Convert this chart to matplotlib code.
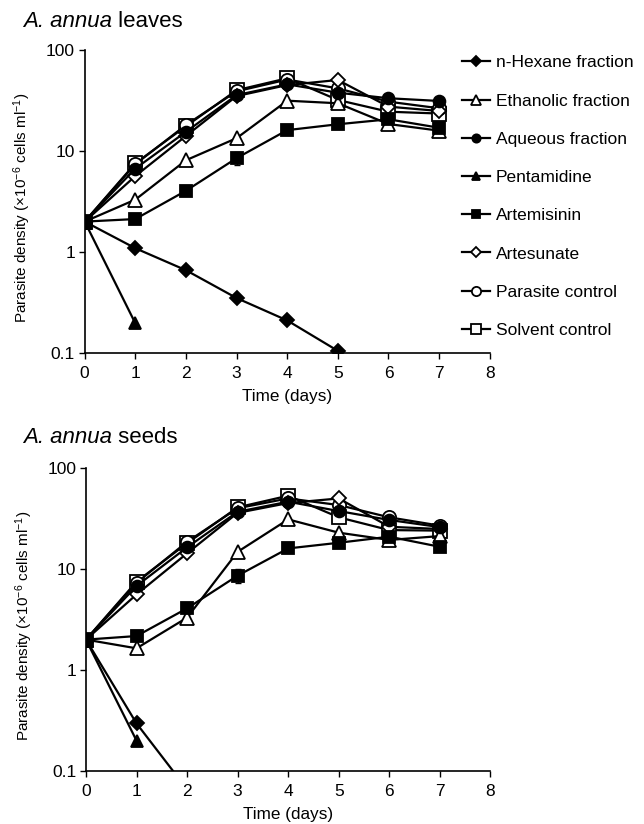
import matplotlib
matplotlib.use("Agg")
import matplotlib.pyplot as plt
import numpy as np

plt.rcParams['font.family'] = ['Liberation Sans', 'DejaVu Sans']
plt.rcParams['mathtext.fontset'] = 'custom'
plt.rcParams['mathtext.rm'] = 'Liberation Sans'
plt.rcParams['mathtext.it'] = 'Liberation Sans:italic'

days = [0, 1, 2, 3, 4, 5, 6, 7]
series_names = ["n-Hexane fraction", "Ethanolic fraction", "Aqueous fraction",
                "Pentamidine", "Artemisinin", "Artesunate",
                "Parasite control", "Solvent control"]

# A. annua leaves
leaves_hexane = [2.0, 1.09, 0.66, 0.35, 0.21, 0.105]
leaves_ethanolic = [2.0, 3.3, 8.1, 13.4, 31.5, 29.7, 18.5, 15.9]
leaves_aqueous = [2.0, 6.7, 15.5, 35.8, 45.7, 37.8, 33.3, 31.3]
leaves_pentamidine = [2.0, 0.197]
leaves_artemisinin = [2.0, 2.12, 4.04, 8.5, 16.1, 18.4, 20.6, 17.0]
leaves_artemisinin_err = [0, 0, 0, 1.2, 0, 0, 0, 0]
leaves_artesunate = [2.0, 5.65, 14.1, 35.0, 45.0, 50.5, 27.5, 24.9]
leaves_parasite = [2.0, 7.4, 18.1, 39.0, 51.0, 41.7, 30.8, 26.5]
leaves_solvent = [2.0, 7.55, 17.6, 40.0, 52.5, 32.0, 24.5, 23.5]

# A. annua seeds
seeds_hexane = [2.0, 0.296, 0.066]
seeds_ethanolic = [2.0, 1.64, 3.3, 14.8, 31.0, 22.9, 19.4, 21.2]
seeds_aqueous = [2.0, 6.8, 16.4, 36.9, 46.4, 37.5, 30.6, 26.0]
seeds_pentamidine = [2.0, 0.2]
seeds_artemisinin = [2.0, 2.17, 4.08, 8.6, 16.0, 18.2, 20.9, 16.6]
seeds_artemisinin_err = [0, 0, 0, 1.3, 0, 0, 0, 0]
seeds_artesunate = [2.0, 5.6, 14.3, 36.0, 45.0, 50.0, 26.2, 24.9]
seeds_parasite = [2.0, 7.3, 18.6, 40.0, 50.0, 43.0, 32.5, 26.9]
seeds_solvent = [2.0, 7.5, 18.0, 40.8, 53.2, 32.5, 24.3, 24.0]

ytick_vals = [0.1, 1, 10, 100]
ytick_labels = ["0.1", "1", "10", "100"]
xtick_vals = [0, 1, 2, 3, 4, 5, 6, 7, 8]

# style: (marker, filled, markersize)
styles = {
    "n-Hexane fraction": ('D', True, 7.0),
    "Ethanolic fraction": ('^', False, 9.5),
    "Aqueous fraction": ('o', True, 8.5),
    "Pentamidine": ('^', True, 9.0),
    "Artemisinin": ('s', True, 8.0),
    "Artesunate": ('D', False, 7.5),
    "Parasite control": ('o', False, 9.5),
    "Solvent control": ('s', False, 9.5),
}
draw_order = ["Solvent control", "Parasite control", "Artesunate", "Ethanolic fraction",
              "Aqueous fraction", "Artemisinin", "Pentamidine", "n-Hexane fraction"]

fig = plt.figure(figsize=(6.44, 8.24), dpi=100)

panels = [
    (dict(zip(series_names, [leaves_hexane, leaves_ethanolic, leaves_aqueous, leaves_pentamidine,
                              leaves_artemisinin, leaves_artesunate, leaves_parasite, leaves_solvent])),
     leaves_artemisinin_err, [0.1315, 0.5716, 0.629, 0.3677], "leaves", 0.9745),
    (dict(zip(series_names, [seeds_hexane, seeds_ethanolic, seeds_aqueous, seeds_pentamidine,
                              seeds_artemisinin, seeds_artesunate, seeds_parasite, seeds_solvent])),
     seeds_artemisinin_err, [0.1335, 0.0643, 0.628, 0.3677], "seeds", 0.4685),
]

handles = {}
for data, err, rect, word, ty in panels:
    ax = fig.add_axes(rect)
    for name in draw_order:
        vals = data[name]
        mk, filled, ms = styles[name]
        x = days[:len(vals)]
        kw = dict(color='black', lw=1.6, marker=mk, ms=ms, mec='black', mew=1.3,
                  mfc='black' if filled else 'white')
        if name == "Artemisinin":
            ax.errorbar(x, vals, yerr=err, fmt='none', ecolor='black', elinewidth=1.0,
                        capsize=2.5, capthick=1.0, zorder=3)
        line, = ax.plot(x, vals, zorder=3, **kw)
        handles[name] = line
    ax.set_yscale('log')
    ax.set_ylim(0.1, 100)
    ax.set_xlim(0, 8)
    ax.set_yticks(ytick_vals)
    ax.set_yticklabels(ytick_labels)
    ax.yaxis.set_minor_locator(matplotlib.ticker.NullLocator())
    ax.set_xticks(xtick_vals)
    for s in ['top', 'right']:
        ax.spines[s].set_visible(False)
    for s in ['left', 'bottom']:
        ax.spines[s].set_linewidth(1.2)
    ax.tick_params(axis='both', direction='out', length=4, width=1.0, labelsize=12.5, pad=3)
    ax.tick_params(axis='x', pad=5)
    ax.set_xlabel("Time (days)", fontsize=12.3, labelpad=6)
    ax.set_ylabel(r"Parasite density (×10$^{-6}$ cells ml$^{-1}$)", fontsize=11.0)
    ax.yaxis.set_label_coords(-0.127, 0.48)
    t1 = fig.text(0.036, ty, "A. annua", fontsize=16, style='italic', ha='left', va='center')
    ax.annotate(" " + word, xy=(1, 0), xycoords=t1, fontsize=16, ha='left', va='bottom',
                annotation_clip=False)

leg = fig.legend([handles[n] for n in series_names], series_names,
                 loc='upper left', bbox_to_anchor=(0.717, 0.933), frameon=False,
                 fontsize=12.5, handlelength=1.65, handletextpad=0.3, labelspacing=1.33,
                 borderpad=0, borderaxespad=0, markerscale=0.7)

fig.savefig("out.png", dpi=100)
